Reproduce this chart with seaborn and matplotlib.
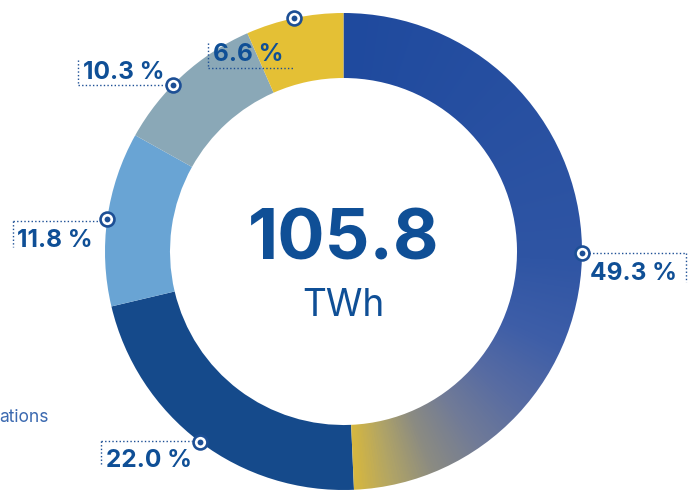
import numpy as np
import matplotlib
matplotlib.use("Agg")
import matplotlib.pyplot as plt
from matplotlib.colors import LinearSegmentedColormap
import seaborn as sns

# ---------------- data ----------------
labels = ["49.3 %", "22.0 %", "11.8 %", "10.3 %", "6.6 %"]
shares = [49.3, 22.0, 11.8, 10.3, 6.6]
total_value = "105.8"
total_unit = "TWh"
legend_fragment = "ations"

# ---------------- style ----------------
sns.set_theme(style="white")
plt.rcParams["font.family"] = ["Inter", "DejaVu Sans"]

seg_colors = ["#2a52a0", "#154a8b", "#69a4d4", "#8aa8b7", "#e4c035"]
text_col = "#0f4f96"
line_col = "#1d4f95"
W, H = 694, 491
cx, cy_img = 343.5, 251.5
R_out, ring_w = 238.5, 65.0

def Y(y_img):
    return H - y_img

fig = plt.figure(figsize=(W / 100, H / 100), dpi=100)
ax = fig.add_axes([0, 0, 1, 1])

wedges, _ = ax.pie(shares, radius=R_out, center=(cx, Y(cy_img)), startangle=90,
                   counterclock=False, colors=seg_colors,
                   wedgeprops=dict(width=ring_w, edgecolor="none", linewidth=0))

# gradient fill for first segment (blue -> grey -> yellow along the arc)
grad = LinearSegmentedColormap.from_list("g", [
    (0.00, "#1f4a9e"), (0.52, "#2f55a4"), (0.64, "#3e5ea8"), (0.74, "#586ca2"),
    (0.82, "#717b97"), (0.89, "#8b8b82"), (0.95, "#b2a565"), (1.00, "#d6b740")])
xs = np.linspace(cx - R_out, cx + R_out, 500)
ys = np.linspace(Y(cy_img) + R_out, Y(cy_img) - R_out, 500)
XX, YY = np.meshgrid(xs, ys)
theta = np.degrees(np.arctan2(XX - cx, YY - Y(cy_img))) % 360
t = np.clip(theta / (shares[0] / sum(shares) * 360), 0, 1)
img = ax.imshow(grad(t), extent=(cx - R_out, cx + R_out, Y(cy_img) - R_out, Y(cy_img) + R_out),
                interpolation="bilinear", zorder=1.5)
img.set_clip_path(wedges[0])
wedges[0].set_facecolor("none")

# ---------------- annotations ----------------
# angular nudges (deg) and bracket layout in pixel coords: hline_y, hx0, hx1, vx, vy0, vy1, tx, tbase
nudges = [1.7, 0, 0, -3.5, 0]
layout = [
    (253, 589, 686, 686, 253, 282, 590, 280),
    (441, 101, 192, 101, 441, 466, 106, 467),
    (221, 13, 98, 13, 221, 247, 17, 247),
    (85, 78, 165, 78, 60, 85, 83, 79),
    (68, 208, 293, 208, 43, 68, 213, 61),
]
cum = np.cumsum([0] + shares)
for i, lab in enumerate(labels):
    mid = (cum[i] + cum[i + 1]) / 2 / cum[-1] * 360 + nudges[i]
    mx = cx + R_out * np.sin(np.radians(mid))
    my = Y(cy_img) + R_out * np.cos(np.radians(mid))
    hy, hx0, hx1, vx, vy0, vy1, tx, tb = layout[i]
    ax.plot([hx0, hx1], [Y(hy), Y(hy)], color=line_col, lw=1.0,
            linestyle=(0, (1, 1.6)), zorder=3, solid_capstyle="butt")
    ax.plot([vx, vx], [Y(vy0), Y(vy1)], color=line_col, lw=1.0,
            linestyle=(0, (1, 1.6)), zorder=3)
    ax.plot([mx], [my], marker="o", ms=10, mfc="white", mec=line_col, mew=1.9, zorder=4)
    ax.plot([mx], [my], marker="o", ms=4.2, mfc=line_col, mec="none", zorder=5)
    ax.text(tx, Y(tb), lab, ha="left", va="baseline", fontsize=17.6,
            fontweight="bold", color=text_col, zorder=5)

ax.text(cx, Y(260), total_value, ha="center", va="baseline", fontsize=50.5,
        fontweight="bold", color=text_col)
ax.text(cx, Y(316), total_unit, ha="center", va="baseline", fontsize=26.7,
        color=text_col)
ax.text(-1, Y(422), legend_fragment, ha="left", va="baseline", fontsize=12.5,
        color="#3b69b0")

ax.set_xlim(0, W)
ax.set_ylim(0, H)
ax.set_aspect("equal")
ax.axis("off")
fig.savefig("out.png", dpi=100, facecolor="white")
